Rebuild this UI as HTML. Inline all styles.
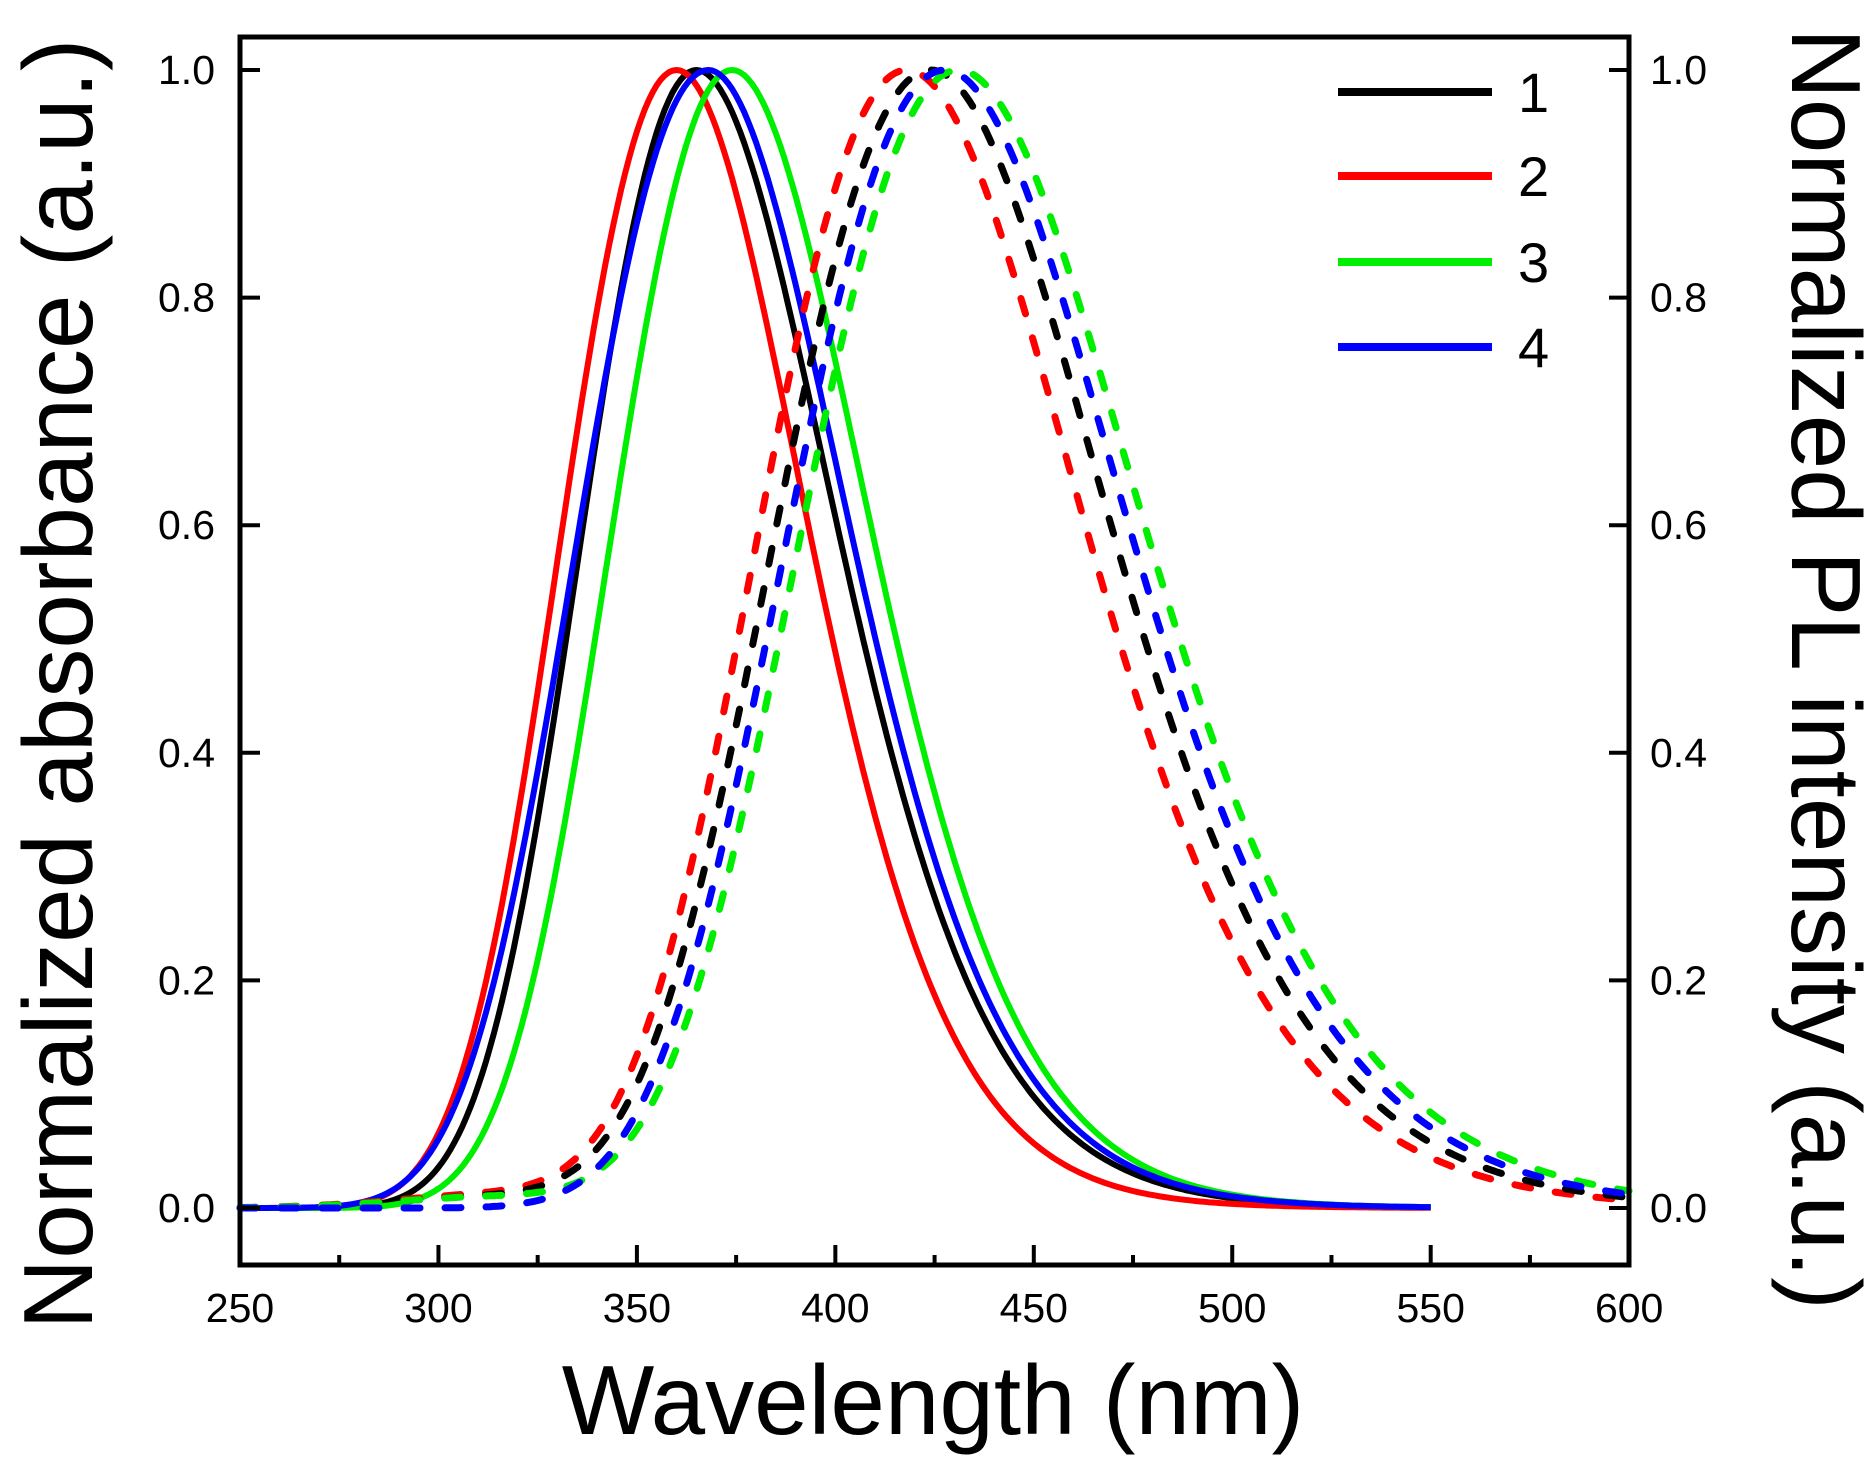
<!DOCTYPE html>
<html><head><meta charset="utf-8"><style>
html,body{margin:0;padding:0;background:#fff;}
svg{display:block;font-family:"Liberation Sans",Arial,sans-serif;}
</style></head><body>
<svg id="s" width="1864" height="1472" viewBox="0 0 1864 1472" xmlns="http://www.w3.org/2000/svg">
<rect width="1864" height="1472" fill="#fff"/>
<g id="curves" fill="none" stroke-linejoin="round"></g>
<rect x="240" y="37" width="1389" height="1228" fill="none" stroke="#000" stroke-width="5"/>
<g id="ticks" stroke="#000" stroke-width="4"></g>
<g id="labels" font-size="41" fill="#000"></g>
<g stroke-width="8">
<line x1="1338" y1="92" x2="1492" y2="92" stroke="#000"/>
<line x1="1338" y1="176" x2="1492" y2="176" stroke="#ff0000"/>
<line x1="1338" y1="262" x2="1492" y2="262" stroke="#00ee00"/>
<line x1="1338" y1="347" x2="1492" y2="347" stroke="#0000ff"/>
</g>
<g font-size="56" fill="#000">
<text x="1518" y="112">1</text><text x="1518" y="196">2</text>
<text x="1518" y="282">3</text><text x="1518" y="367">4</text>
</g>
<text x="933" y="1434" font-size="98" text-anchor="middle">Wavelength (nm)</text>
<text transform="translate(92,684) rotate(-90)" font-size="98" text-anchor="middle">Normalized absorbance (a.u.)</text>
<text transform="translate(1792,669) rotate(90)" font-size="98" text-anchor="middle">Normalized PL intensity (a.u.)</text>
</svg>
<script>
var NS="http://www.w3.org/2000/svg";
function X(w){return 240+(w-250)*3.969;}
function Y(v){return 1208-v*1138;}
function el(p,tag,a){var e=document.createElementNS(NS,tag);for(var k in a)e.setAttribute(k,a[k]);p.appendChild(e);return e;}
var C=document.getElementById("curves");
function curve(peak,sl,sr,end,col,dash,base){
  var E0=1e7/peak,d="";
  for(var w=250;w<=end;w+=1){
    var E=1e7/w,s=E>E0?sl:sr,v=Math.exp(-0.5*Math.pow((E-E0)/s,2));
    if(base){v+=base*Math.exp(-0.5*Math.pow((w-315)/25,2));}
    d+=(w==250?"M":"L")+X(w).toFixed(1)+","+Y(v).toFixed(1);
  }
  var a={d:d,stroke:col,"stroke-width":dash?7:6};
  if(dash){a["stroke-dasharray"]="16,25";a["stroke-linecap"]="round";}
  el(C,"path",a);
}
curve(365,2300,2400,550,"#000",false);
curve(360,2380,2320,550,"#ff0000",false);
curve(374,2310,2260,550,"#00ee00",false);
curve(368,2600,2370,550,"#0000ff",false);
curve(418,2300,2300,600,"#ff0000",true,0.012);
curve(424,2350,2260,600,"#000",true,0.01);
curve(431,2300,2255,600,"#00ee00",true,0.01);
curve(427.6,2330,2262,600,"#0000ff",true,0);
var T=document.getElementById("ticks"),L=document.getElementById("labels");
for(var w=250;w<=600;w+=25){
  var x=X(w),maj=(w%50==0);
  el(T,"line",{x1:x,y1:1265,x2:x,y2:1265-(maj?20:10)});
  if(maj){var t=el(L,"text",{x:x,y:1322,"text-anchor":"middle"});t.textContent=w;}
}
for(var i=0;i<=5;i++){
  var v=i*0.2,y=Y(v);
  el(T,"line",{x1:240,y1:y,x2:260,y2:y});
  el(T,"line",{x1:1629,y1:y,x2:1609,y2:y});
  var t=el(L,"text",{x:215,y:y+14,"text-anchor":"end"});t.textContent=v.toFixed(1);
  var t2=el(L,"text",{x:1650,y:y+14});t2.textContent=v.toFixed(1);
}
</script>
</body></html>
